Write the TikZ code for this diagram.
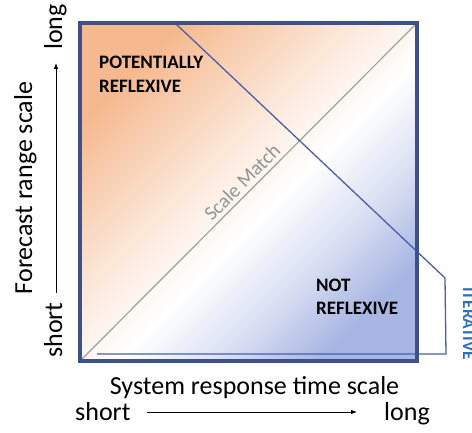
\documentclass[tikz,border=0pt]{standalone}
\usepackage{fontspec}
\setmainfont{Carlito}
\usetikzlibrary{arrows.meta}
\definecolor{peach}{HTML}{F6B88E}
\definecolor{paleblue}{HTML}{A8B6E3}
\definecolor{framebl}{HTML}{3C5189}
\definecolor{iterbl}{HTML}{4A5FA8}
\definecolor{itertext}{HTML}{2F6FB6}
\pgfdeclareverticalshading{reflexshade}{100bp}{color(0bp)=(paleblue); color(25bp)=(paleblue);
    color(36bp)=(paleblue!40); color(46bp)=(white); color(56bp)=(peach!30); color(75bp)=(peach); color(100bp)=(peach)}
\begin{document}
\begin{tikzpicture}[x=1pt,y=-1pt,
    axistitle/.style={font=\fontsize{26}{30}\selectfont, inner sep=0pt},
    regionlabel/.style={font=\bfseries\fontsize{19}{24}\selectfont, align=left, inner sep=0pt, anchor=base west},
    scalearrow/.style={-{Latex[length=6pt,width=4.5pt]}, line width=0.8pt}]
    \useasboundingbox (0,0) rectangle (472,433);
    % corners of the square
    \coordinate (nw) at (80,23); \coordinate (se) at (417,361);
    \coordinate (sw) at (82,359); \coordinate (ne) at (415,25);
    \shade[shading=reflexshade, shading angle=45] (nw) rectangle (se);
    %scale match diagonal
    \draw[gray!75, line width=1.2pt] (sw) -- (ne);
    \node[rotate=45, inner sep=0pt, text=gray!85, font=\fontsize{20}{22}\selectfont] (match) at (242,182) {Scale Match};
    %iterative path
    \coordinate (it0) at (175,23); \coordinate (it1) at (445,278);
    \coordinate (it2) at (446,354); \coordinate (it3) at (97,354);
    \draw[iterbl, line width=1.3pt] (it0) -- (it1) -- (it2) -- (it3);
    \node[rotate=-90, anchor=base west, inner sep=0pt, text=itertext, font=\bfseries\fontsize{17.5}{20}\selectfont] (iter) at (463,287) {ITERATIVE};
    \draw[framebl, line width=4pt] (nw) rectangle (se);
    \node[regionlabel] (pot) at (99,93) {POTENTIALLY\\REFLEXIVE};
    \node[regionlabel] (notr) at (316,315) {NOT\\REFLEXIVE};
    % axis titles
    \node[axistitle, anchor=base] (xtitle) at (254.5,395) {System response time scale};
    \node[axistitle, anchor=base west] (xshort) at (75,420) {short};
    \node[axistitle, anchor=base east] (xlong) at (430,420) {long};
    \draw[scalearrow] (147,412) -- (357,412);
    \node[axistitle, rotate=90, anchor=base] (ytitle) at (32,188) {Forecast range scale};
    \node[axistitle, rotate=90, anchor=base] (yshort) at (62,330) {short};
    \node[axistitle, rotate=90, anchor=base] (ylong) at (62,27) {long};
    \draw[scalearrow] (56,293) -- (56,63);
\end{tikzpicture}
\end{document}
